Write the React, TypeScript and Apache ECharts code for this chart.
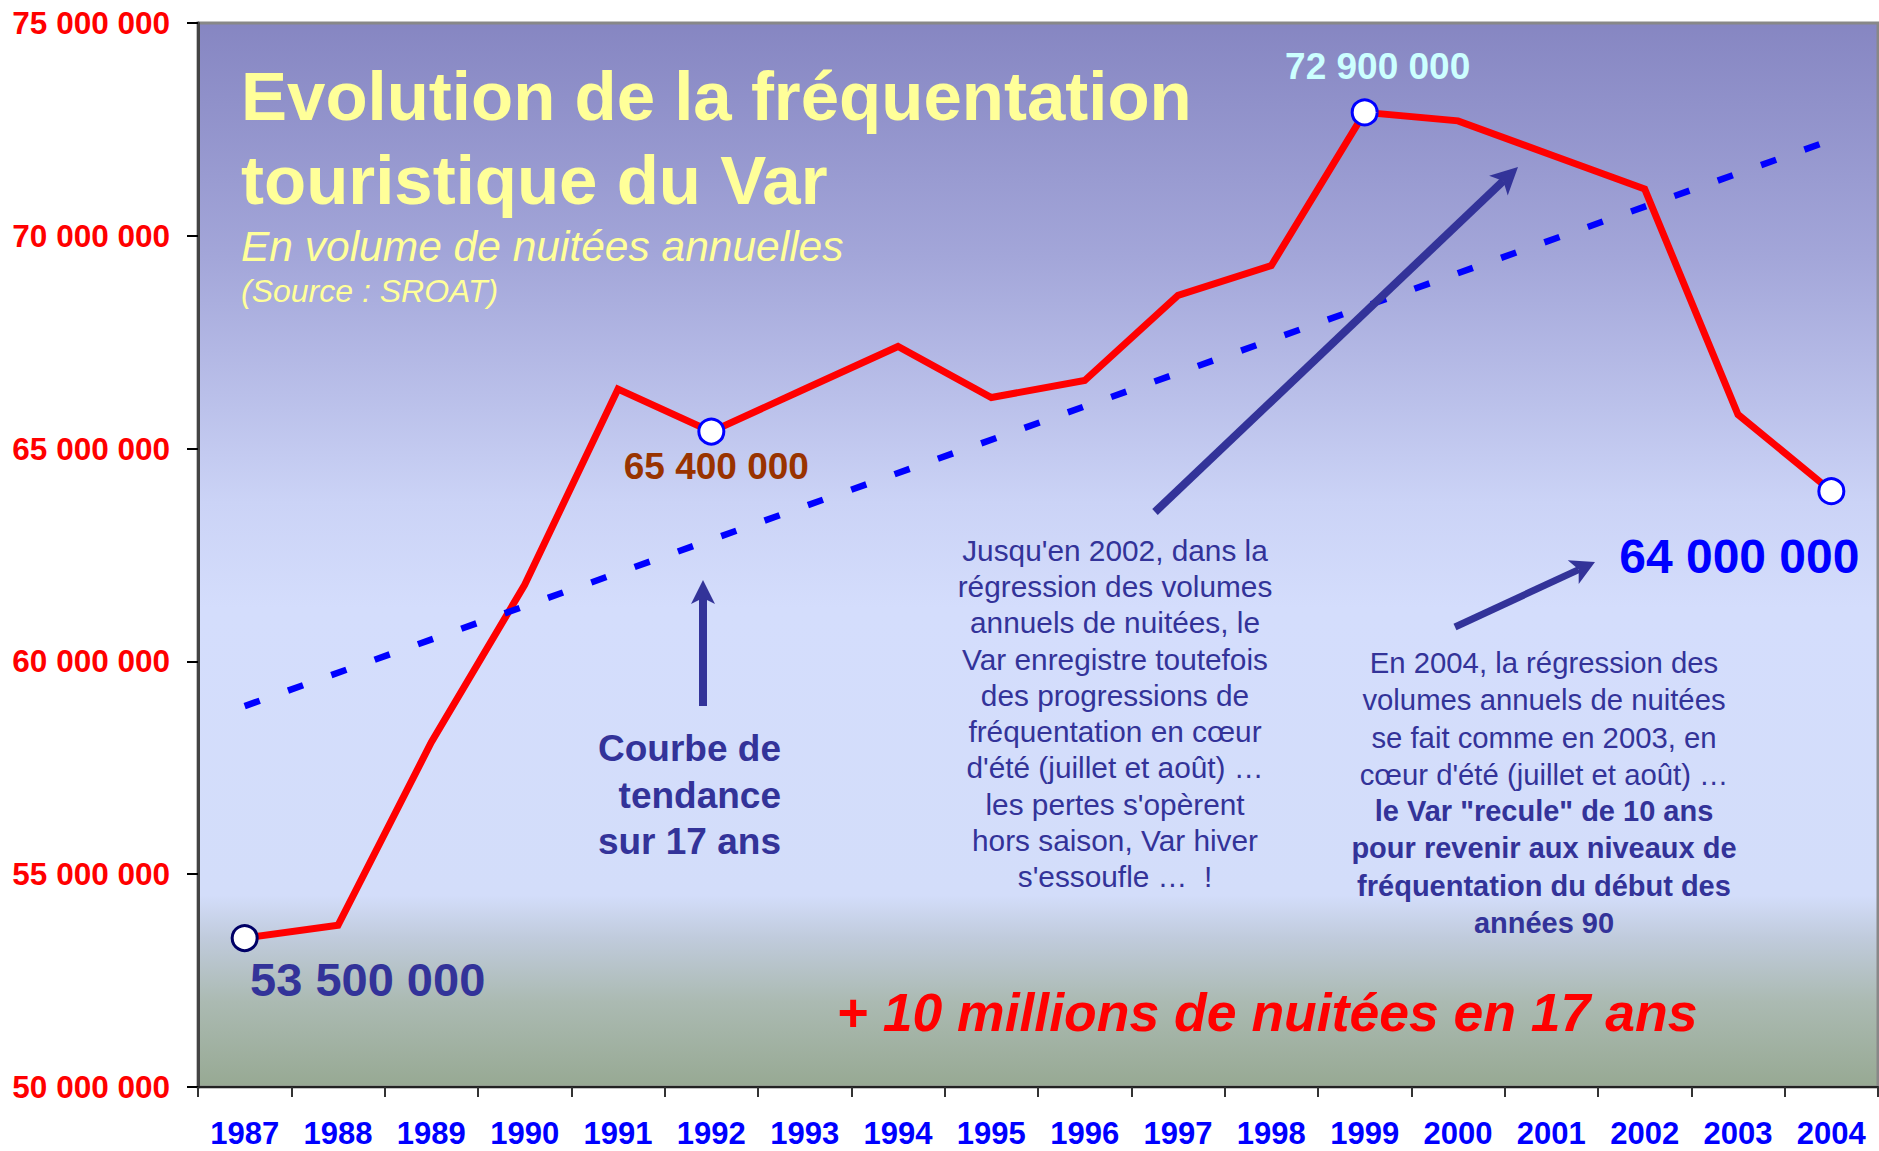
import React, { useEffect, useRef } from "react";
import * as echarts from "echarts";

const years = ["1987","1988","1989","1990","1991","1992","1993","1994","1995","1996","1997","1998","1999","2000","2001","2002","2003","2004"];
const nights = [53500000,53800000,58100000,61800000,66400000,65400000,66400000,67400000,66200000,66600000,68600000,69300000,72900000,72700000,71900000,71100000,65800000,64000000];
const trend = [["1987", 58950000], ["2004", 72250000]];
const markedYears = ["1987", "1992", "1999", "2004"];
const yMin = 50000000;
const yMax = 75000000;
const yStep = 5000000;

const titleLines = ["Evolution de la fréquentation", "touristique du Var"];
const subtitle = "En volume de nuitées annuelles";
const source = "(Source : SROAT)";
const trendNote = "Courbe de\ntendance\nsur 17 ans";
const note1 = [
  "Jusqu'en 2002, dans la",
  "régression des volumes",
  "annuels de nuitées, le",
  "Var enregistre toutefois",
  "des progressions de",
  "fréquentation en cœur",
  "d'été (juillet et août) …",
  "les pertes s'opèrent",
  "hors saison, Var hiver",
  "s'essoufle …  !",
];
const note2Plain = [
  "En 2004, la régression des",
  "volumes annuels de nuitées",
  "se fait comme en 2003, en",
  "cœur d'été (juillet et août) …",
];
const note2Bold = [
  "le Var \"recule\" de 10 ans",
  "pour revenir aux niveaux de",
  "fréquentation du début des",
  "années 90",
];
const headline = "+ 10 millions de nuitées en 17 ans";

const FONT = "'Liberation Sans', Arial, sans-serif";
const NAVY = "#333399";

function fmt(v: number): string {
  return String(Math.round(v)).replace(/\B(?=(\d{3})+(?!\d))/g, " ");
}

function arrow(x1: number, y1: number, x2: number, y2: number, w: number, hl: number, hw: number) {
  const dx = x2 - x1, dy = y2 - y1;
  const L = Math.hypot(dx, dy);
  const ux = dx / L, uy = dy / L;
  const px = -uy, py = ux;
  const bx = x2 - ux * hl, by = y2 - uy * hl;
  const nx = bx + ux * hl * 0.25, ny = by + uy * hl * 0.25;
  return [
    {
      type: "line",
      z: 50,
      shape: { x1, y1, x2: nx, y2: ny },
      style: { stroke: NAVY, lineWidth: w },
    },
    {
      type: "polygon",
      z: 50,
      shape: {
        points: [
          [x2, y2],
          [bx + (px * hw) / 2, by + (py * hw) / 2],
          [nx, ny],
          [bx - (px * hw) / 2, by - (py * hw) / 2],
        ],
      },
      style: { fill: NAVY },
    },
  ];
}

const pointStyles: Record<string, any> = {
  "1987": { border: "#000066", color: NAVY, size: 47, offset: [123, 41] },
  "1992": { border: "#0000ff", color: "#993300", size: 37, offset: [5, 35] },
  "1999": { border: "#0000ff", color: "#ccffff", size: 37, offset: [13, -46] },
  "2004": { border: "#0000ff", color: "#0000ff", size: 48, offset: [-92, 65] },
};

export default function App() {
  const ref = useRef<HTMLDivElement>(null);
  useEffect(() => {
    if (!ref.current) return;
    const chart = echarts.init(ref.current, undefined, { renderer: "svg" });

    const lineData = nights.map((v, i) => {
      const y = years[i];
      if (markedYears.indexOf(y) < 0) return { value: v, symbol: "none" };
      const s = pointStyles[y];
      return {
        value: v,
        symbol: "circle",
        symbolSize: 25,
        itemStyle: { color: "#ffffff", borderColor: s.border, borderWidth: 3 },
        label: {
          show: true,
          position: "inside",
          offset: s.offset,
          formatter: (p: any) => fmt(p.value),
          color: s.color,
          fontSize: s.size,
          fontWeight: "bold",
          fontFamily: FONT,
          align: "center",
          verticalAlign: "middle",
        },
      };
    });

    const graphics: any[] = [
      {
        type: "text", z: 40, x: 241, y: 96,
        style: { text: titleLines[0], fill: "#ffff99", font: `bold 69px ${FONT}`, textVerticalAlign: "middle" },
      },
      {
        type: "text", z: 40, x: 241, y: 180,
        style: { text: titleLines[1], fill: "#ffff99", font: `bold 69px ${FONT}`, textVerticalAlign: "middle" },
      },
      {
        type: "text", z: 40, x: 241, y: 246,
        style: { text: subtitle, fill: "#ffff99", font: `italic 42.5px ${FONT}`, textVerticalAlign: "middle" },
      },
      {
        type: "text", z: 40, x: 241, y: 291,
        style: { text: source, fill: "#ffff99", font: `italic 32px ${FONT}`, textVerticalAlign: "middle" },
      },
      {
        type: "text", z: 40, x: 781, y: 795,
        style: {
          text: trendNote, fill: NAVY, font: `bold 37px ${FONT}`,
          textAlign: "right", textVerticalAlign: "middle", lineHeight: 46.5,
        },
      },
      {
        type: "text", z: 40, x: 1115, y: 713.5,
        style: {
          text: note1.join("\n"), fill: NAVY, font: `29.8px ${FONT}`,
          textAlign: "center", textVerticalAlign: "middle", lineHeight: 36.3,
        },
      },
      {
        type: "text", z: 40, x: 1544, y: 718.5,
        style: {
          text: note2Plain.join("\n"), fill: NAVY, font: `29.3px ${FONT}`,
          textAlign: "center", textVerticalAlign: "middle", lineHeight: 37.1,
        },
      },
      {
        type: "text", z: 40, x: 1544, y: 867,
        style: {
          text: note2Bold.join("\n"), fill: NAVY, font: `bold 29px ${FONT}`,
          textAlign: "center", textVerticalAlign: "middle", lineHeight: 37.1,
        },
      },
      {
        type: "text", z: 40, x: 1267, y: 1012,
        style: {
          text: headline, fill: "#ff0000", font: `italic bold 53.5px ${FONT}`,
          textAlign: "center", textVerticalAlign: "middle",
        },
      },
      ...arrow(703, 706, 703, 580, 8, 24, 24),
      ...arrow(1155, 512, 1518, 167, 8, 27, 27),
      ...arrow(1455, 627, 1595, 562, 7, 24, 26),
    ];

    chart.setOption({
      animation: false,
      backgroundColor: "#ffffff",
      grid: {
        left: 198, right: 1, top: 23, bottom: 64,
        show: true,
        borderColor: "#888888",
        borderWidth: 3,
        backgroundColor: new echarts.graphic.LinearGradient(0, 0, 0, 1, [
          { offset: 0, color: "#8686c2" },
          { offset: 0.22, color: "#a3a6d9" },
          { offset: 0.45, color: "#cbd3f6" },
          { offset: 0.55, color: "#d4ddfc" },
          { offset: 0.82, color: "#d3ddfa" },
          { offset: 0.86, color: "#c0cbdc" },
          { offset: 0.92, color: "#abbab2" },
          { offset: 1, color: "#97a993" },
        ]),
      },
      xAxis: {
        type: "category",
        data: years,
        boundaryGap: true,
        axisLine: { show: true, lineStyle: { color: "#222222", width: 2 } },
        axisTick: { show: true, length: 10, lineStyle: { color: "#333333", width: 2 } },
        axisLabel: {
          color: "#0000ff", fontSize: 31, lineHeight: 28, fontWeight: "bold", fontFamily: FONT,
          margin: 46, verticalAlign: "middle", interval: 0,
        },
        splitLine: { show: false },
      },
      yAxis: {
        type: "value",
        min: yMin,
        max: yMax,
        interval: yStep,
        axisLine: { show: true, lineStyle: { color: "#444444", width: 3 } },
        axisTick: { show: true, length: 11, lineStyle: { color: "#000000", width: 2 } },
        axisLabel: {
          color: "#ff0000", fontSize: 31.5, fontWeight: "bold", fontFamily: FONT,
          margin: 28, formatter: (v: number) => fmt(v),
        },
        splitLine: { show: false },
      },
      series: [
        {
          type: "line",
          data: lineData,
          symbol: "none",
          lineStyle: { color: "#ff0000", width: 7, join: "miter" },
          itemStyle: { color: "#ff0000" },
          z: 3,
        },
        {
          type: "line",
          data: trend,
          symbol: "none",
          lineStyle: { color: "#0000ff", width: 6.5, type: [16, 30] },
          z: 4,
        },
      ],
      graphic: graphics,
    });
    return () => chart.dispose();
  }, []);
  return <div ref={ref} style={{ position: "fixed", left: 0, top: 0, width: 1879, height: 1151 }} />;
}
